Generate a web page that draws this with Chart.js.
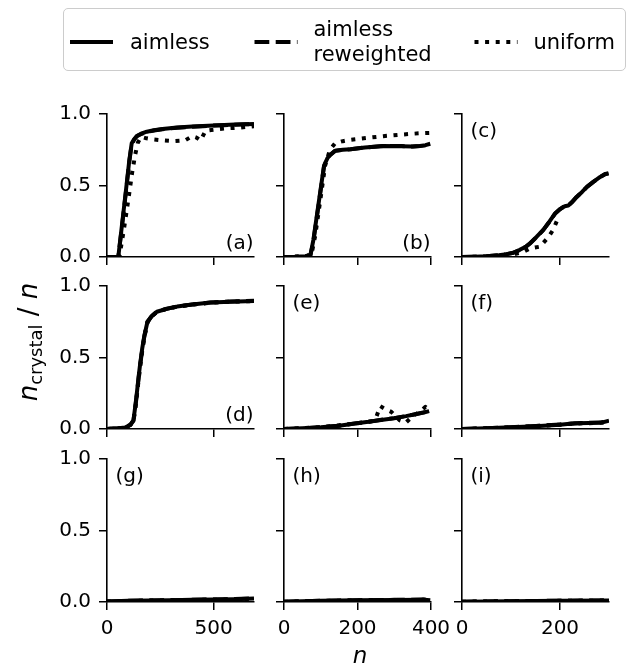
<!DOCTYPE html>
<html><head><meta charset="utf-8">
<script src="https://cdn.jsdelivr.net/npm/chart.js@4/dist/chart.umd.min.js"></script>
<style>
html,body{margin:0;padding:0;background:#fff}
body{width:633px;height:670px;overflow:hidden;position:relative;font-family:"DejaVu Sans",sans-serif}
canvas{position:absolute}
#legendbox{position:absolute;left:63px;top:8px;width:563px;height:63px;border:1.5px solid #cccccc;border-radius:5px;box-sizing:border-box;background:rgba(255,255,255,0.8)}
svg{position:absolute;left:0;top:0}
</style>
</head><body>
<div id="legendbox"></div>
<svg id="overlay" width="633" height="670" style="pointer-events:none;z-index:5"></svg>
<script>
// ---------- data ----------
const seriesNames = ["aimless", "aimless reweighted", "uniform"];
const panelLabels = ["(a)", "(b)", "(c)", "(d)", "(e)", "(f)", "(g)", "(h)", "(i)"];
const xMaxByCol = [690, 400, 300];
const xTicksByCol = [[0, 500], [0, 200, 400], [0, 200]];
const yTicks = [0, 0.5, 1.0];

// (a)
const n_a = [0, 30, 53, 70, 90, 105, 116, 128, 140, 160, 187, 220, 260, 329, 400, 450, 500, 550, 600, 650, 690];
const aimless_a = [0, 0, 0, 0.22, 0.48, 0.68, 0.795, 0.825, 0.846, 0.862, 0.876, 0.886, 0.895, 0.905, 0.912, 0.916, 0.92, 0.923, 0.926, 0.928, 0.93];
const reweighted_a = [0, 0, 0, 0.21, 0.47, 0.67, 0.79, 0.822, 0.844, 0.86, 0.874, 0.885, 0.894, 0.904, 0.911, 0.915, 0.919, 0.922, 0.925, 0.928, 0.93];
const n_a_u = [0, 30, 58, 80, 102, 118, 133, 145, 160, 185, 211, 264, 318, 366, 400, 420, 440, 462, 500, 564, 627, 690];
const uniform_a = [0, 0, 0, 0.2, 0.42, 0.59, 0.72, 0.8, 0.84, 0.83, 0.823, 0.815, 0.81, 0.815, 0.845, 0.835, 0.815, 0.883, 0.89, 0.9, 0.905, 0.915];

// (b)
const n_b = [0, 30, 60, 72, 80, 90, 100, 109, 118, 125, 139, 160, 181, 220, 270, 320, 350, 370, 385, 398];
const aimless_b = [0, 0.002, 0.006, 0.015, 0.12, 0.3, 0.48, 0.64, 0.69, 0.713, 0.743, 0.75, 0.753, 0.765, 0.776, 0.775, 0.772, 0.776, 0.782, 0.792];
const reweighted_b = [0, 0.002, 0.006, 0.014, 0.11, 0.29, 0.47, 0.635, 0.688, 0.712, 0.742, 0.75, 0.754, 0.766, 0.776, 0.776, 0.773, 0.777, 0.783, 0.791];
const n_b_u = [0, 30, 60, 75, 85, 100, 112, 125, 139, 160, 181, 226, 270, 315, 351, 375, 398];
const uniform_b = [0, 0.002, 0.006, 0.02, 0.15, 0.42, 0.64, 0.75, 0.795, 0.81, 0.82, 0.833, 0.845, 0.855, 0.862, 0.866, 0.868];

// (c)
const n_c = [0, 25, 50, 75, 91, 105, 118, 130, 139, 152, 166, 178, 190, 200, 207, 212, 217, 225, 234, 245, 255, 268, 282, 292, 299];
const aimless_c = [0, 0.002, 0.005, 0.012, 0.02, 0.03, 0.05, 0.072, 0.096, 0.14, 0.19, 0.245, 0.305, 0.335, 0.35, 0.357, 0.36, 0.385, 0.42, 0.455, 0.49, 0.525, 0.56, 0.58, 0.585];
const reweighted_c = [0, 0.002, 0.005, 0.012, 0.02, 0.03, 0.049, 0.071, 0.095, 0.139, 0.19, 0.245, 0.304, 0.334, 0.35, 0.357, 0.361, 0.386, 0.42, 0.455, 0.49, 0.525, 0.56, 0.579, 0.585];
const n_c_u = [0, 50, 100, 125, 139, 159, 176, 186, 197];
const uniform_c = [0, 0.003, 0.015, 0.035, 0.06, 0.072, 0.138, 0.19, 0.28];

// (d)
const n_d = [0, 30, 55, 85, 110, 124, 132, 140, 148, 156, 165, 175, 190, 210, 234, 280, 329, 400, 486, 580, 690];
const aimless_d = [0, 0.003, 0.005, 0.01, 0.03, 0.06, 0.15, 0.25, 0.36, 0.46, 0.56, 0.65, 0.75, 0.79, 0.82, 0.84, 0.856, 0.87, 0.884, 0.89, 0.895];
const reweighted_d = [0, 0.003, 0.005, 0.01, 0.03, 0.058, 0.14, 0.24, 0.35, 0.45, 0.55, 0.645, 0.748, 0.789, 0.82, 0.841, 0.857, 0.871, 0.884, 0.891, 0.896];
const uniform_d = [0, 0.003, 0.005, 0.01, 0.028, 0.055, 0.13, 0.23, 0.34, 0.44, 0.54, 0.64, 0.745, 0.788, 0.819, 0.84, 0.855, 0.87, 0.883, 0.89, 0.895];

// (e)
const n_e = [0, 50, 100, 150, 198, 230, 269, 300, 332, 360, 380, 395];
const aimless_e = [0, 0.005, 0.012, 0.022, 0.04, 0.05, 0.065, 0.075, 0.09, 0.105, 0.115, 0.125];
const reweighted_e = [0, 0.005, 0.012, 0.023, 0.041, 0.05, 0.066, 0.076, 0.091, 0.104, 0.116, 0.126];
const n_e_u = [0, 100, 200, 240, 252, 262, 275, 292, 315, 332, 350, 370, 385, 395];
const uniform_e = [0, 0.012, 0.04, 0.055, 0.09, 0.16, 0.14, 0.12, 0.06, 0.045, 0.09, 0.12, 0.155, 0.13];

// (f)
const n_f = [0, 50, 100, 150, 200, 230, 260, 285, 300];
const aimless_f = [0, 0.005, 0.012, 0.02, 0.03, 0.04, 0.042, 0.045, 0.058];
const reweighted_f = [0, 0.005, 0.012, 0.021, 0.031, 0.039, 0.043, 0.046, 0.057];
const uniform_f = [0, 0.005, 0.011, 0.02, 0.03, 0.038, 0.041, 0.045, 0.055];

// (g)
const n_g = [0, 100, 200, 300, 400, 500, 600, 690];
const aimless_g = [0.003, 0.008, 0.011, 0.013, 0.015, 0.017, 0.02, 0.025];
const reweighted_g = [0.003, 0.008, 0.011, 0.013, 0.015, 0.018, 0.021, 0.026];
const uniform_g = [0.003, 0.007, 0.01, 0.012, 0.014, 0.016, 0.019, 0.022];

// (h)
const n_h = [0, 100, 200, 300, 380, 398];
const aimless_h = [0.002, 0.008, 0.012, 0.014, 0.016, 0.012];
const reweighted_h = [0.002, 0.008, 0.012, 0.015, 0.017, 0.012];
const uniform_h = [0.002, 0.007, 0.011, 0.013, 0.015, 0.011];

// (i)
const n_i = [0, 100, 200, 300];
const aimless_i = [0.002, 0.006, 0.009, 0.01];
const reweighted_i = [0.002, 0.006, 0.009, 0.011];
const uniform_i = [0.002, 0.006, 0.008, 0.01];

// ---------- layout ----------
const FONT = "'DejaVu Sans', sans-serif";
const colLeft = [107, 284, 462], colW = 147;
const rowTop = [114, 286, 459], rowH = 143;
const PL = 60, PT = 30, PR = 40, PB = 45;
const LW = 4;
const DASHES = [[], [14.8, 6.4], [4, 6.6]];

const panels = [
  {label: "br", s: [[n_a, aimless_a], [n_a, reweighted_a], [n_a_u, uniform_a]]},
  {label: "br", s: [[n_b, aimless_b], [n_b, reweighted_b], [n_b_u, uniform_b]]},
  {label: "tl", s: [[n_c, aimless_c], [n_c, reweighted_c], [n_c_u, uniform_c]]},
  {label: "br", s: [[n_d, aimless_d], [n_d, reweighted_d], [n_d, uniform_d]]},
  {label: "tl", s: [[n_e, aimless_e], [n_e, reweighted_e], [n_e_u, uniform_e]]},
  {label: "tl", s: [[n_f, aimless_f], [n_f, reweighted_f], [n_f, uniform_f]]},
  {label: "tl", s: [[n_g, aimless_g], [n_g, reweighted_g], [n_g, uniform_g]]},
  {label: "tl", s: [[n_h, aimless_h], [n_h, reweighted_h], [n_h, uniform_h]]},
  {label: "tl", s: [[n_i, aimless_i], [n_i, reweighted_i], [n_i, uniform_i]]}
];

const labelPlugin = {
  id: 'panelLabel',
  afterDatasetsDraw(chart, args, opts) {
    const ctx = chart.ctx, a = chart.chartArea;
    ctx.save();
    ctx.font = "20px " + FONT;
    ctx.fillStyle = "#000";
    ctx.textBaseline = "alphabetic";
    if (opts.pos === "br") {
      ctx.textAlign = "right";
      ctx.fillText(opts.text, a.right - 0.5, a.bottom - 8);
    } else {
      ctx.textAlign = "left";
      ctx.fillText(opts.text, a.left + 8.5, a.top + 22.5);
    }
    ctx.restore();
  }
};

panels.forEach((p, idx) => {
  const col = idx % 3, row = Math.floor(idx / 3);
  const c = document.createElement('canvas');
  const w = PL + colW + PR, h = PT + rowH + PB;
  c.width = w; c.height = h;
  c.style.width = w + 'px'; c.style.height = h + 'px';
  c.style.left = (colLeft[col] - PL) + 'px';
  c.style.top = (rowTop[row] - PT) + 'px';
  document.body.appendChild(c);
  // draw order: uniform on top (dataset 0 drawn last)
  const order = [2, 1, 0];
  const datasets = order.map(k => ({
    label: seriesNames[k],
    data: p.s[k][0].map((x, i) => ({x: x, y: p.s[k][1][i]})),
    borderColor: '#000',
    borderWidth: LW,
    borderDash: DASHES[k],
    borderCapStyle: 'butt',
    borderJoinStyle: 'round',
    pointRadius: 0,
    fill: false,
    tension: 0
  }));
  const gridOpts = {display: true, drawOnChartArea: false, drawTicks: true, tickLength: 8, color: '#000', lineWidth: 1.5};
  const borderOpts = {display: true, color: '#000', width: 1.6};
  new Chart(c, {
    type: 'line',
    data: {datasets: datasets},
    options: {
      responsive: false, animation: false, devicePixelRatio: 1,
      layout: {padding: {left: 0, top: PT, right: PR, bottom: 0}},
      plugins: {legend: {display: false}, tooltip: {enabled: false},
        panelLabel: {text: panelLabels[idx], pos: p.label}},
      scales: {
        x: {
          type: 'linear', min: 0, max: xMaxByCol[col],
          afterBuildTicks: s => { s.ticks = xTicksByCol[col].map(v => ({value: v})); },
          afterFit: s => { s.height = PB; },
          ticks: {display: row === 2, color: '#000', font: {family: FONT, size: 20}, padding: 7,
                  maxRotation: 0, autoSkip: false, callback: v => String(v)},
          grid: gridOpts, border: borderOpts
        },
        y: {
          type: 'linear', min: 0, max: 1,
          afterBuildTicks: s => { s.ticks = yTicks.map(v => ({value: v})); },
          afterFit: s => { s.width = PL; },
          ticks: {display: col === 0, color: '#000', font: {family: FONT, size: 20}, padding: 8,
                  callback: v => v.toFixed(1)},
          grid: gridOpts, border: borderOpts
        }
      }
    },
    plugins: [labelPlugin]
  });
});

// ---------- legend & axis labels (SVG overlay) ----------
const NS = "http://www.w3.org/2000/svg";
const svg = document.getElementById('overlay');
function el(tag, attrs, text) {
  const e = document.createElementNS(NS, tag);
  for (const k in attrs) e.setAttribute(k, attrs[k]);
  if (text !== undefined) e.textContent = text;
  svg.appendChild(e);
  return e;
}
const handleX = [70, 254.5, 474.5], handleLen = 43, handleY = 42;
const textX = [130, 313.5, 533.5];
const dashAttr = ["none", "14.8 6.4", "4 6.6"];
for (let k = 0; k < 3; k++) {
  el('line', {x1: handleX[k], y1: handleY, x2: handleX[k] + handleLen, y2: handleY,
    stroke: '#000', 'stroke-width': LW, 'stroke-dasharray': dashAttr[k], 'stroke-linecap': 'butt'});
}
const legStyle = {'font-family': "DejaVu Sans", 'font-size': 21, fill: '#000'};
el('text', Object.assign({x: textX[0], y: 48.5}, legStyle), seriesNames[0]);
const words = seriesNames[1].split(' ');
el('text', Object.assign({x: textX[1], y: 35.5}, legStyle), words[0]);
el('text', Object.assign({x: textX[1], y: 60.5}, legStyle), words[1]);
el('text', Object.assign({x: textX[2], y: 48.5}, legStyle), seriesNames[2]);

// x label
el('text', {x: 360, y: 663, 'text-anchor': 'middle', 'font-family': 'DejaVu Sans', 'font-style': 'italic', 'font-size': 23, fill: '#000'}, 'n');
// y label
const yl = document.createElementNS(NS, 'text');
yl.setAttribute('transform', 'translate(37,342) rotate(-90)');
yl.setAttribute('text-anchor', 'middle');
yl.setAttribute('font-family', 'DejaVu Sans');
yl.setAttribute('font-size', '26');
yl.setAttribute('fill', '#000');
const t1 = document.createElementNS(NS, 'tspan'); t1.setAttribute('font-style', 'italic'); t1.textContent = 'n';
const t2 = document.createElementNS(NS, 'tspan'); t2.setAttribute('font-size', '18'); t2.setAttribute('dy', '5'); t2.textContent = 'crystal';
const t3 = document.createElementNS(NS, 'tspan'); t3.setAttribute('dy', '-5'); t3.textContent = '\u00a0/\u00a0';
const t4 = document.createElementNS(NS, 'tspan'); t4.setAttribute('font-style', 'italic'); t4.textContent = 'n';
yl.appendChild(t1); yl.appendChild(t2); yl.appendChild(t3); yl.appendChild(t4);
svg.appendChild(yl);
</script>
</body></html>
